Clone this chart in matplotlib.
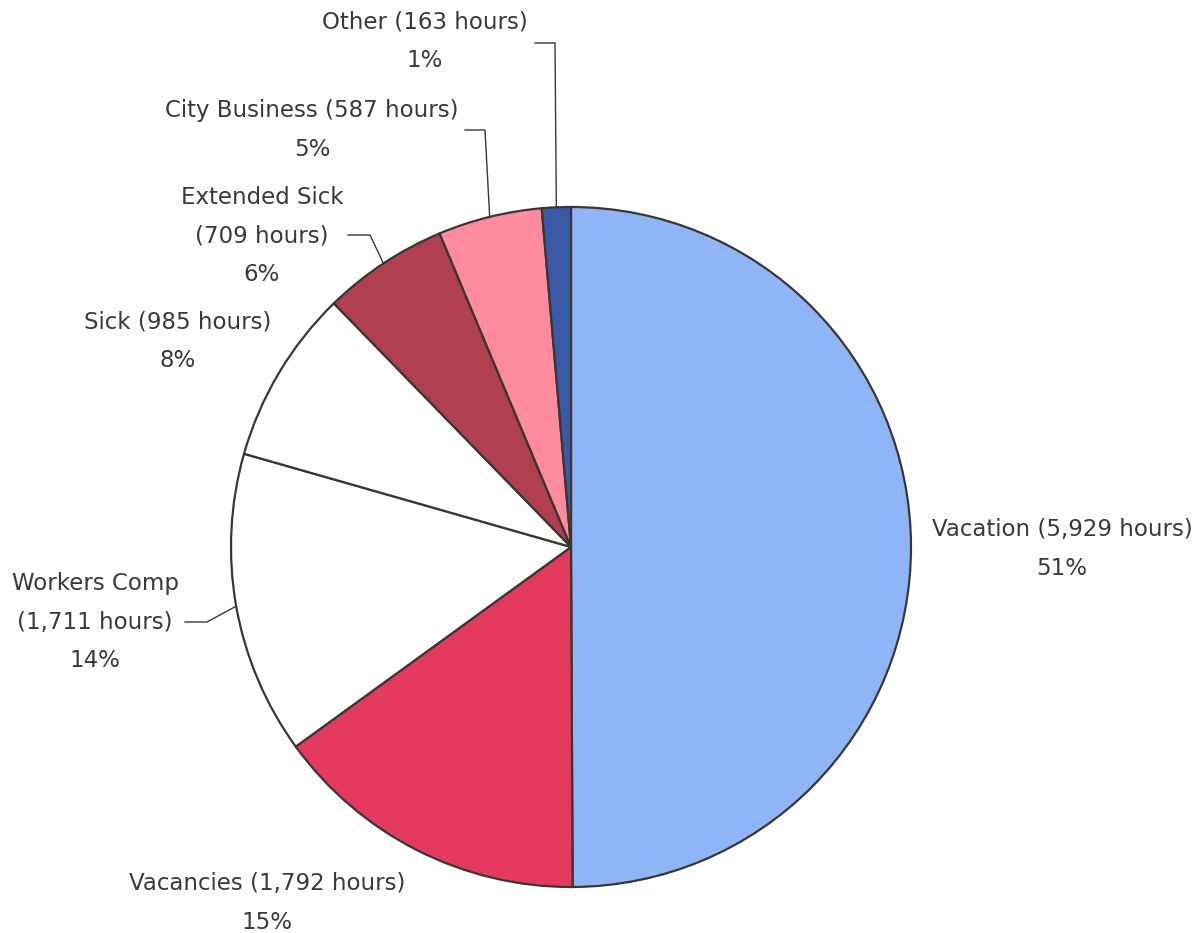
import matplotlib.pyplot as plt
import numpy as np

# data
categories = ['Vacation', 'Vacancies', 'Workers Comp', 'Sick',
              'Extended Sick', 'City Business', 'Other']
hours = [5929, 1792, 1711, 985, 709, 587, 163]
pct_labels = ['51%', '15%', '14%', '8%', '6%', '5%', '1%']
colors = ['#8fb4f7', '#e33a5e', '#ffffff', '#ffffff', '#b0404f', '#ff8c9e', '#3a5aa6']

W, H = 1202, 933
cx, cy, R = 571, 547, 340

fig = plt.figure(figsize=(W / 100, H / 100), dpi=100)
ax = fig.add_axes([0, 0, 1, 1])
ax.set_xlim(0, W)
ax.set_ylim(0, H)
ax.set_aspect('equal')
ax.axis('off')

wedges, _ = ax.pie(hours, colors=colors, startangle=90, counterclock=False,
                   center=(cx, H - cy), radius=R,
                   wedgeprops=dict(edgecolor='#3a3632', linewidth=1.6))
ax.set_xlim(0, W)
ax.set_ylim(0, H)

def label_text(i):
    name = categories[i]
    h = '{:,} hours'.format(hours[i])
    if name in ('Extended Sick', 'Workers Comp'):
        return name + '\n(' + h + ')\n' + pct_labels[i]
    return name + ' (' + h + ')\n' + pct_labels[i]

# label centre (pixels, top-left origin) and optional leader line start / elbow
layout = {
    'Vacation': ((1062, 549), None, None),
    'Vacancies': ((267, 903), None, None),
    'Workers Comp': ((95, 622), (185, 622), (207, 622)),
    'Sick': ((178, 341), None, None),
    'Extended Sick': ((262, 236), (348, 235), (370, 235)),
    'City Business': ((312, 130), (465, 130), (485, 130)),
    'Other': ((425, 41), (535, 43), (555, 43)),
}

txt_color = '#3a3838'
for i, w in enumerate(wedges):
    (tx, ty), start, elbow = layout[categories[i]]
    ax.text(tx, H - ty, label_text(i), ha='center', va='center',
            fontsize=16.5, color=txt_color, linespacing=1.85)
    if start is not None:
        mid = np.deg2rad((w.theta1 + w.theta2) / 2)
        ex = cx + R * np.cos(mid)
        ey = (H - cy) + R * np.sin(mid)
        ax.plot([start[0], elbow[0], ex], [H - start[1], H - elbow[1], ey],
                color='#3a3632', linewidth=1.0)

plt.savefig('out.png', dpi=100)
